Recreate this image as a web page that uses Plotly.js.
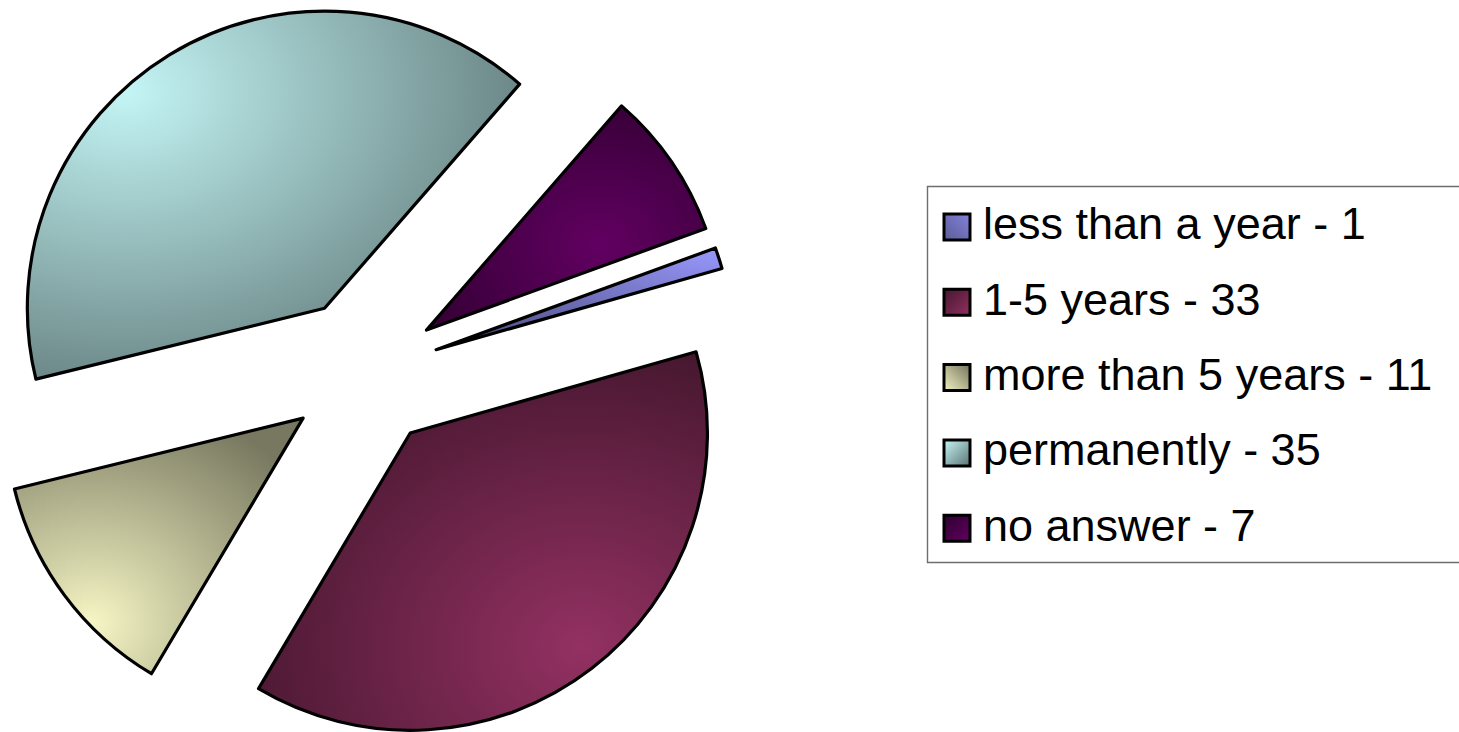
<!DOCTYPE html>
<html><head><meta charset="utf-8">
<script src="https://cdn.plot.ly/plotly-3.0.1.min.js"></script>
<style>
html,body{margin:0;padding:0;overflow:hidden;background:#fff;width:1459px;height:732px;position:relative}
#chart{position:absolute;left:-10px;top:0;width:1469px;height:746px}
</style>
</head><body><div id="chart"></div>
<script>
// ---- data ----
const categories = ['less than a year', '1-5 years', 'more than 5 years', 'permanently', 'no answer'];
const values = [1, 33, 11, 35, 7];
const labels = categories.map((c, i) => c + ' - ' + values[i]);

// ---- styles ----
const baseColors = ['#9999FF', '#993366', '#FFFFCC', '#CCFFFF', '#660066'];

const W = 1469, H = 746, OFFX = 10;
const px = x => (x + OFFX) / W;
const py = y => 1 - y / H;

const leg = {left: 927.5, top: 186.5, bottom: 562.5, mx0: 944, mx1: 970, half: 13, row0: 227, step: 75.3, textX: 981, textDy: -3};

const shapes = [{
  type: 'rect', xref: 'paper', yref: 'paper',
  x0: px(leg.left), x1: px(1463), y0: py(leg.bottom), y1: py(leg.top),
  line: {color: '#6e6e6e', width: 1.4}, fillcolor: 'rgba(0,0,0,0)'
}];
const annotations = [];
categories.forEach((c, i) => {
  const yc = leg.row0 + i * leg.step;
  shapes.push({
    type: 'rect', xref: 'paper', yref: 'paper',
    x0: px(leg.mx0), x1: px(leg.mx1), y0: py(yc + leg.half), y1: py(yc - leg.half),
    line: {color: '#000', width: 3}, fillcolor: baseColors[i]
  });
  annotations.push({
    text: labels[i], xref: 'paper', yref: 'paper',
    x: px(leg.textX), y: py(yc + leg.textDy), xanchor: 'left', yanchor: 'middle',
    showarrow: false, font: {size: 45, color: '#000', family: 'Liberation Sans, Arial, sans-serif'}
  });
});

const data = [{
  type: 'pie', labels: labels, values: values, sort: false,
  direction: 'clockwise', rotation: 70, pull: 0.255,
  marker: {colors: baseColors, line: {color: '#000', width: 3.2}},
  textinfo: 'none', hoverinfo: 'none', showlegend: false,
  domain: {x: [0, 748 / W], y: [0, 1]}
}];

const layout = {
  width: W, height: H, margin: {l: 0, r: 0, t: 0, b: 0},
  showlegend: false, paper_bgcolor: '#fff', plot_bgcolor: '#fff',
  font: {family: 'Liberation Sans, Arial, sans-serif', color: '#000'},
  shapes: shapes, annotations: annotations
};

function shade(hex, f) {
  const n = parseInt(hex.slice(1), 16);
  const r = Math.round(((n >> 16) & 255) * f), g = Math.round(((n >> 8) & 255) * f), b = Math.round((n & 255) * f);
  return 'rgb(' + r + ',' + g + ',' + b + ')';
}

const sliceGrad = [
  {cx: 1.0, cy: 0.0, r: 1.15, lo: 1.0, hi: 0.55},
  {cx: 0.72, cy: 0.78, r: 0.85, lo: 0.96, hi: 0.44},
  {cx: 0.27, cy: 0.8, r: 0.9, lo: 0.96, hi: 0.47},
  {cx: 0.2, cy: 0.22, r: 0.95, lo: 0.96, hi: 0.45},
  {cx: 0.62, cy: 0.62, r: 0.8, lo: 0.96, hi: 0.44}
];
const markerGrad = [
  [1, 0, 0, 1, 0.85, 0.6],
  [1, 1, 0, 0, 0.95, 0.45],
  [0, 1, 1, 0, 0.95, 0.45],
  [0, 0, 1, 1, 0.97, 0.45],
  [1, 1, 0, 0, 0.95, 0.45]
];

const gd = document.getElementById('chart');
Plotly.newPlot(gd, data, layout, {staticPlot: true, displayModeBar: false}).then(() => {
  const NS = 'http://www.w3.org/2000/svg';
  const svg = gd.querySelector('svg.main-svg');
  let defs = svg.querySelector('defs');
  if (!defs) { defs = document.createElementNS(NS, 'defs'); svg.insertBefore(defs, svg.firstChild); }
  function stop(g, off, col) {
    const s = document.createElementNS(NS, 'stop');
    s.setAttribute('offset', off); s.setAttribute('stop-color', col); g.appendChild(s);
  }
  baseColors.forEach((c, i) => {
    const sg = sliceGrad[i];
    const rg = document.createElementNS(NS, 'radialGradient');
    rg.setAttribute('id', 'sg' + i);
    rg.setAttribute('cx', sg.cx); rg.setAttribute('cy', sg.cy); rg.setAttribute('r', sg.r);
    rg.setAttribute('fx', sg.cx); rg.setAttribute('fy', sg.cy);
    stop(rg, 0, shade(c, sg.lo)); stop(rg, 1, shade(c, sg.hi));
    defs.appendChild(rg);
    const m = markerGrad[i];
    const lg = document.createElementNS(NS, 'linearGradient');
    lg.setAttribute('id', 'mg' + i);
    lg.setAttribute('x1', m[0]); lg.setAttribute('y1', m[1]); lg.setAttribute('x2', m[2]); lg.setAttribute('y2', m[3]);
    stop(lg, 0, shade(c, m[4])); stop(lg, 1, shade(c, m[5]));
    defs.appendChild(lg);
  });
  gd.querySelectorAll('g.slice path.surface').forEach((p, i) => { p.style.fill = 'url(#sg' + i + ')'; });
  const sp = gd.querySelectorAll('.shapelayer path');
  for (let i = 1; i < sp.length && i <= baseColors.length; i++) sp[i].style.fill = 'url(#mg' + (i - 1) + ')';
});
</script>
</body></html>
